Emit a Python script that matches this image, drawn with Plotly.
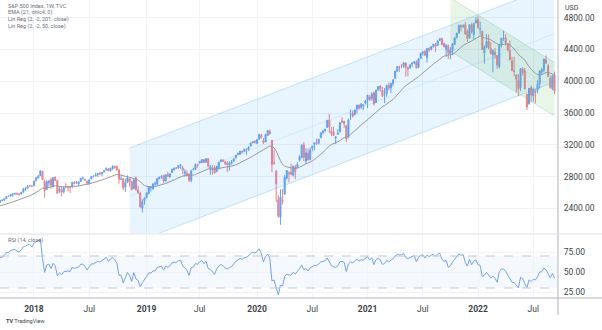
import numpy as np
import pandas as pd
import plotly.graph_objects as go

# Weekly S&P 500 bars (week starting Monday), first bar on this date
FIRST_WEEK = "2017-01-02"

opens_2017 = [2251, 2273, 2270, 2268, 2295, 2295, 2320, 2350, 2366, 2381,
              2372, 2379, 2330, 2363, 2357, 2332, 2375, 2389, 2394, 2393,
              2387, 2416, 2437, 2433, 2439, 2437, 2431, 2424, 2459, 2473,
              2475, 2475, 2444, 2428, 2442, 2474, 2473, 2501, 2503, 2521,
              2551, 2555, 2578, 2584, 2588, 2580, 2580, 2603, 2639, 2653,
              2685, 2682]
highs_2017 = [2282, 2279, 2276, 2300, 2299, 2319, 2352, 2368, 2401, 2383,
              2390, 2382, 2370, 2378, 2359, 2355, 2392, 2399, 2404, 2406,
              2418, 2440, 2446, 2450, 2454, 2454, 2439, 2463, 2477, 2484,
              2481, 2490, 2468, 2454, 2480, 2476, 2501, 2509, 2520, 2552,
              2557, 2576, 2582, 2590, 2597, 2590, 2605, 2657, 2665, 2695,
              2694, 2692]
lows_2017 = [2245, 2258, 2259, 2265, 2267, 2288, 2316, 2346, 2358, 2355,
             2360, 2335, 2322, 2346, 2322, 2324, 2370, 2377, 2387, 2353,
             2382, 2406, 2415, 2419, 2430, 2405, 2407, 2418, 2455, 2459,
             2465, 2437, 2421, 2417, 2428, 2447, 2470, 2488, 2493, 2520,
             2544, 2547, 2544, 2566, 2566, 2557, 2575, 2597, 2624, 2651,
             2673, 2673]
closes_2017 = [2277, 2275, 2271, 2295, 2297, 2316, 2351, 2367, 2383, 2372,
               2378, 2344, 2363, 2355, 2329, 2349, 2384, 2399, 2391, 2382,
               2416, 2439, 2432, 2433, 2438, 2423, 2425, 2459, 2472, 2472,
               2476, 2441, 2426, 2443, 2477, 2461, 2500, 2502, 2519, 2549,
               2553, 2575, 2581, 2588, 2582, 2579, 2602, 2642, 2652, 2675,
               2683, 2674]

opens_2018 = [2684, 2746, 2784, 2810, 2867, 2741, 2636, 2722, 2761, 2681,
              2790, 2750, 2619, 2633, 2611, 2671, 2675, 2670, 2675, 2722,
              2718, 2705, 2741, 2780, 2765, 2742, 2705, 2769, 2798, 2809,
              2821, 2840, 2835, 2857, 2884, 2896, 2871, 2896, 2926, 2926,
              2882, 2764, 2773, 2670, 2726, 2773, 2730, 2649, 2790, 2630,
              2590, 2401, 2498]
highs_2018 = [2745, 2787, 2810, 2873, 2870, 2763, 2755, 2754, 2789, 2787,
              2802, 2761, 2674, 2673, 2680, 2718, 2683, 2677, 2732, 2743,
              2742, 2736, 2779, 2801, 2774, 2746, 2760, 2802, 2816, 2848,
              2841, 2863, 2855, 2877, 2916, 2906, 2909, 2941, 2940, 2939,
              2894, 2817, 2779, 2773, 2816, 2776, 2747, 2760, 2800, 2685,
              2601, 2512, 2538]
lows_2018 = [2682, 2743, 2778, 2808, 2759, 2533, 2632, 2675, 2647, 2661,
             2741, 2586, 2594, 2553, 2586, 2660, 2612, 2594, 2655, 2701,
             2707, 2676, 2731, 2764, 2742, 2692, 2698, 2767, 2790, 2801,
             2795, 2825, 2802, 2848, 2874, 2864, 2864, 2886, 2902, 2875,
             2710, 2755, 2628, 2604, 2722, 2671, 2631, 2649, 2622, 2583,
             2409, 2346, 2443]
closes_2018 = [2743, 2786, 2810, 2873, 2762, 2620, 2732, 2747, 2691, 2786,
               2752, 2588, 2641, 2604, 2656, 2670, 2670, 2663, 2728, 2713,
               2721, 2735, 2779, 2780, 2755, 2718, 2760, 2801, 2802, 2819,
               2840, 2833, 2850, 2875, 2902, 2872, 2905, 2930, 2914, 2886,
               2767, 2768, 2659, 2723, 2781, 2736, 2633, 2760, 2633, 2600,
               2417, 2486, 2532]

opens_2019 = [2535, 2585, 2657, 2644, 2706, 2703, 2770, 2798, 2814, 2747,
              2823, 2796, 2849, 2888, 2908, 2908, 2940, 2909, 2841, 2841,
              2830, 2751, 2886, 2889, 2951, 2971, 2980, 3012, 2981, 3024,
              2898, 2907, 2911, 2866, 2910, 2988, 3001, 2983, 2967, 2944,
              2965, 2996, 3035, 3078, 3081, 3117, 3117, 3144, 3141, 3183,
              3223, 3240]
highs_2019 = [2597, 2675, 2672, 2716, 2738, 2776, 2795, 2814, 2816, 2831,
              2860, 2836, 2894, 2910, 2916, 2940, 2954, 2933, 2892, 2876,
              2840, 2885, 2910, 2964, 2959, 2996, 3014, 3017, 3028, 3029,
              2944, 2943, 2940, 2940, 2985, 3021, 3022, 3002, 2993, 2993,
              3008, 3027, 3067, 3097, 3120, 3127, 3154, 3150, 3183, 3226,
              3248, 3259]
lows_2019 = [2524, 2575, 2613, 2634, 2682, 2699, 2768, 2775, 2722, 2735,
             2800, 2785, 2848, 2874, 2896, 2898, 2900, 2826, 2801, 2805,
             2729, 2728, 2880, 2883, 2913, 2964, 2967, 2967, 2976, 2914,
             2822, 2825, 2834, 2856, 2892, 2980, 2985, 2946, 2855, 2874,
             2952, 2980, 3023, 3066, 3074, 3091, 3113, 3070, 3124, 3183,
             3223, 3212]
closes_2019 = [2596, 2671, 2665, 2707, 2708, 2776, 2793, 2804, 2743, 2822,
               2800, 2834, 2893, 2907, 2905, 2940, 2946, 2881, 2860, 2826,
               2752, 2873, 2887, 2950, 2942, 2990, 3014, 2977, 3026, 2932,
               2919, 2889, 2847, 2926, 2979, 3007, 2992, 2962, 2952, 2970,
               2986, 3023, 3067, 3093, 3120, 3110, 3141, 3146, 3169, 3221,
               3240, 3235]

opens_2020 = [3217, 3271, 3321, 3248, 3236, 3318, 3369, 3257, 2974, 2864,
              2508, 2290, 2498, 2579, 2782, 2846, 2854, 2815, 2915, 2913,
              3005, 3038, 3199, 2993, 3094, 3018, 3155, 3205, 3224, 3219,
              3289, 3356, 3380, 3419, 3508, 3369, 3363, 3285, 3334, 3367,
              3500, 3493, 3441, 3296, 3584, 3600, 3579, 3653, 3694, 3675,
              3694, 3723]
highs_2020 = [3268, 3330, 3337, 3285, 3338, 3385, 3393, 3260, 3137, 2883,
              2562, 2641, 2645, 2818, 2879, 2871, 2965, 2934, 2945, 2980,
              3068, 3211, 3233, 3155, 3155, 3165, 3185, 3233, 3280, 3272,
              3352, 3387, 3399, 3509, 3588, 3425, 3429, 3307, 3397, 3485,
              3550, 3502, 3443, 3529, 3645, 3629, 3645, 3700, 3712, 3726,
              3712, 3760]
lows_2020 = [3214, 3260, 3281, 3214, 3236, 3315, 3328, 2856, 2946, 2478,
             2280, 2192, 2447, 2569, 2761, 2728, 2816, 2798, 2766, 2913,
             2988, 3031, 2994, 2965, 3004, 3000, 3116, 3127, 3200, 3204,
             3284, 3330, 3357, 3417, 3350, 3310, 3313, 3209, 3324, 3354,
             3473, 3415, 3233, 3280, 3512, 3543, 3570, 3594, 3640, 3648,
             3636, 3707]
closes_2020 = [3265, 3330, 3295, 3226, 3328, 3380, 3338, 2954, 2972, 2711,
               2305, 2541, 2489, 2790, 2875, 2837, 2831, 2930, 2864, 2955,
               3044, 3194, 3041, 3098, 3009, 3130, 3185, 3225, 3216, 3271,
               3351, 3373, 3397, 3508, 3427, 3341, 3319, 3298, 3348, 3477,
               3484, 3465, 3270, 3510, 3585, 3558, 3638, 3699, 3663, 3709,
               3703, 3756]

opens_2021 = [3764, 3803, 3781, 3856, 3732, 3893, 3939, 3886, 3842, 3844,
              3949, 3916, 3969, 4034, 4125, 4183, 4185, 4191, 4228, 4169,
              4170, 4216, 4229, 4248, 4174, 4285, 4356, 4372, 4296, 4409,
              4406, 4438, 4461, 4450, 4514, 4536, 4474, 4402, 4442, 4349,
              4385, 4463, 4553, 4610, 4702, 4689, 4712, 4628, 4548, 4710,
              4587, 4733]
highs_2021 = [3827, 3824, 3860, 3870, 3894, 3938, 3950, 3929, 3914, 3960,
              3983, 3978, 4020, 4130, 4191, 4195, 4219, 4238, 4238, 4187,
              4219, 4235, 4249, 4262, 4287, 4356, 4372, 4393, 4415, 4429,
              4441, 4470, 4480, 4513, 4546, 4549, 4486, 4465, 4465, 4429,
              4475, 4560, 4608, 4718, 4714, 4718, 4744, 4653, 4713, 4732,
              4740, 4808]
lows_2021 = [3663, 3750, 3755, 3694, 3725, 3875, 3866, 3805, 3724, 3806,
             3886, 3853, 3936, 4034, 4119, 4119, 4164, 4167, 4057, 4062,
             4157, 4178, 4215, 4165, 4164, 4278, 4322, 4321, 4234, 4367,
             4387, 4424, 4368, 4450, 4513, 4458, 4428, 4306, 4279, 4278,
             4330, 4459, 4537, 4596, 4630, 4672, 4586, 4495, 4532, 4600,
             4531, 4733]
closes_2021 = [3825, 3768, 3841, 3714, 3887, 3934, 3907, 3811, 3842, 3943,
               3913, 3975, 4020, 4129, 4185, 4180, 4181, 4233, 4174, 4156,
               4204, 4230, 4247, 4166, 4281, 4352, 4370, 4327, 4412, 4395,
               4437, 4468, 4441, 4509, 4535, 4459, 4433, 4455, 4357, 4391,
               4471, 4545, 4605, 4698, 4683, 4698, 4595, 4538, 4712, 4620,
               4726, 4766]

opens_2022 = [4778, 4655, 4632, 4356, 4431, 4505, 4412, 4332, 4363, 4323,
              4188, 4462, 4541, 4547, 4474, 4385, 4256, 4131, 4081, 4013,
              3919, 4151, 4134, 3838, 3716, 3920, 3815, 3880, 3883, 3966,
              4113, 4142, 4270, 4195, 4034, 3910, 4083]
highs_2022 = [4819, 4749, 4632, 4453, 4595, 4590, 4490, 4401, 4416, 4329,
              4466, 4546, 4637, 4593, 4474, 4513, 4308, 4308, 4082, 4091,
              4158, 4178, 4168, 3838, 3913, 3945, 3919, 3907, 4013, 4140,
              4168, 4280, 4325, 4218, 4062, 4076, 4120]
lows_2022 = [4662, 4582, 4395, 4222, 4414, 4401, 4335, 4114, 4281, 4157,
             4161, 4424, 4507, 4451, 4381, 4262, 4129, 4062, 3859, 3811,
             3875, 4074, 3900, 3637, 3705, 3739, 3742, 3722, 3846, 3906,
             4080, 4112, 4218, 4058, 3907, 3886, 3838]
closes_2022 = [4677, 4663, 4398, 4432, 4501, 4419, 4349, 4385, 4329, 4204,
               4463, 4543, 4546, 4488, 4393, 4272, 4132, 4123, 4024, 3901,
               4158, 4109, 3901, 3675, 3912, 3825, 3899, 3863, 3962, 4130,
               4145, 4280, 4228, 4058, 3924, 4067, 3873]

# Axis labels
price_ticks = [2400, 2800, 3200, 3600, 4000, 4400, 4800]
rsi_ticks = [25, 50, 75]
time_ticks = ["2018-01-01", "2018-07-02", "2019-01-07", "2019-07-01",
              "2020-01-06", "2020-07-06", "2021-01-04", "2021-07-05",
              "2022-01-03", "2022-07-04"]
time_labels = ["<b>2018</b>", "Jul", "<b>2019</b>", "Jul", "<b>2020</b>", "Jul",
               "<b>2021</b>", "Jul", "<b>2022</b>", "Jul"]

# ---------------------------------------------------------------------------
opens = np.array(opens_2017 + opens_2018 + opens_2019 + opens_2020 + opens_2021 + opens_2022, float)
highs = np.array(highs_2017 + highs_2018 + highs_2019 + highs_2020 + highs_2021 + highs_2022, float)
lows = np.array(lows_2017 + lows_2018 + lows_2019 + lows_2020 + lows_2021 + lows_2022, float)
closes = np.array(closes_2017 + closes_2018 + closes_2019 + closes_2020 + closes_2021 + closes_2022, float)
assert len(opens) == len(highs) == len(lows) == len(closes)
weeks = pd.date_range(FIRST_WEEK, periods=len(closes), freq="W-MON")


def ema(src, n):
    a = 2.0 / (n + 1)
    out = np.empty_like(src)
    out[0] = src[0]
    for i in range(1, len(src)):
        out[i] = a * src[i] + (1 - a) * out[i - 1]
    return out


def rma(src, n):
    out = np.full(len(src), np.nan)
    out[n - 1] = src[:n].mean()
    for i in range(n, len(src)):
        out[i] = (out[i - 1] * (n - 1) + src[i]) / n
    return out


def rsi(src, n=14):
    ch = np.diff(src)
    up = rma(np.maximum(ch, 0), n)
    dn = rma(np.maximum(-ch, 0), n)
    val = 100 - 100 / (1 + up / dn)
    return np.concatenate([[np.nan], val])


def linreg_channel(src, n, dev=2.0):
    y = src[-n:]
    x = np.arange(n)
    slope, intercept = np.polyfit(x, y, 1)
    base = intercept + slope * x
    sd = np.sqrt(((y - base) ** 2).sum() / (n - 1))
    return base, base + dev * sd, base - dev * sd


ema21 = ema((opens + highs + lows + closes) / 4, 21)
rsi14 = rsi(closes, 14)

UP = "#64a2f2"
DOWN = "#f07f88"
FONT = "Roboto"

fig = go.Figure()

channels = [(201, "66,165,245", 0.12), (50, "102,187,106", 0.15)]
for n, rgb, alpha in channels:
    base, upper, lower = linreg_channel(closes, n)
    xs = weeks[-n:]
    fig.add_trace(go.Scatter(x=xs, y=lower, mode="lines",
                             line=dict(color=f"rgba({rgb},0.28)", width=1),
                             hoverinfo="skip", showlegend=False))
    fig.add_trace(go.Scatter(x=xs, y=upper, mode="lines", fill="tonexty",
                             fillcolor=f"rgba({rgb},{alpha})",
                             line=dict(color=f"rgba({rgb},0.28)", width=1),
                             hoverinfo="skip", showlegend=False))
    fig.add_trace(go.Scatter(x=xs, y=base, mode="lines",
                             line=dict(color=f"rgba({rgb},0.12)", width=1),
                             hoverinfo="skip", showlegend=False))

fig.add_trace(go.Candlestick(
    x=weeks, open=opens, high=highs, low=lows, close=closes,
    increasing=dict(line=dict(color=UP, width=1), fillcolor=UP),
    decreasing=dict(line=dict(color=DOWN, width=1), fillcolor=DOWN),
    whiskerwidth=0, showlegend=False, hoverinfo="skip"))

fig.add_trace(go.Scatter(x=weeks, y=ema21, mode="lines",
                         line=dict(color="#9a9a9a", width=1),
                         hoverinfo="skip", showlegend=False))

fig.add_trace(go.Scatter(x=weeks, y=rsi14, mode="lines",
                         line=dict(color="#74a1e6", width=1),
                         xaxis="x2", yaxis="y2",
                         hoverinfo="skip", showlegend=False))

PLOT_H = 298
main_bottom = (PLOT_H - 233) / PLOT_H
rsi_top = (PLOT_H - 235) / PLOT_H
x_range = ["2017-09-11", "2022-09-23 12:00"]
grid = "#f1f3f8"
tick_font = dict(family=FONT, size=8.5, color="#3b3f48")

fig.update_layout(
    width=602, height=330,
    margin=dict(l=0, r=44, t=0, b=32),
    paper_bgcolor="white", plot_bgcolor="white",
    font=dict(family=FONT),
    hovermode=False,
    xaxis=dict(domain=[0, 1], anchor="y", range=x_range, type="date",
               rangeslider=dict(visible=False), tickvals=time_ticks,
               showticklabels=False, showgrid=True, gridcolor=grid,
               zeroline=False, showline=False, matches="x2"),
    yaxis=dict(domain=[main_bottom, 1], anchor="x", side="right",
               range=[2089, 5023], tickvals=price_ticks,
               ticktext=[f"{v:.2f}" for v in price_ticks],
               tickfont=tick_font, ticks="outside", ticklen=3, tickcolor="white",
               showgrid=True, gridcolor=grid, zeroline=False, showline=False),
    xaxis2=dict(domain=[0, 1], anchor="y2", range=x_range, type="date",
                tickvals=time_ticks, ticktext=time_labels, tickfont=tick_font,
                ticks="outside", ticklen=3, tickcolor="white",
                showgrid=True, gridcolor=grid, zeroline=False, showline=False),
    yaxis2=dict(domain=[0, rsi_top], anchor="x2", side="right",
                range=[17.5, 96.25], tickvals=rsi_ticks,
                ticktext=[f"{v:.2f}" for v in rsi_ticks],
                tickfont=tick_font, ticks="outside", ticklen=3, tickcolor="white",
                showgrid=True, gridcolor=grid, zeroline=False, showline=False),
)

# RSI band and its 70 / 30 guides
fig.add_shape(type="rect", xref="x2 domain", yref="y2", x0=0, x1=1, y0=30, y1=70,
              fillcolor="rgba(66,133,244,0.05)", line=dict(width=0), layer="below")
for lvl in (30, 70):
    fig.add_shape(type="line", xref="x2 domain", yref="y2", x0=0, x1=1, y0=lvl, y1=lvl,
                  line=dict(color="#c3c7cf", width=1, dash="dash"))

# pane borders
right_edge = 602 / 558
fig.add_shape(type="line", xref="paper", yref="paper", x0=1, x1=1, y0=1, y1=-17 / PLOT_H,
              line=dict(color="#b2b5be", width=1))
fig.add_shape(type="line", xref="paper", yref="paper", x0=0, x1=right_edge, y0=0, y1=0,
              line=dict(color="#b2b5be", width=1))
fig.add_shape(type="line", xref="paper", yref="paper", x0=0, x1=right_edge,
              y0=(PLOT_H - 234) / PLOT_H, y1=(PLOT_H - 234) / PLOT_H,
              line=dict(color="#dcdfe6", width=1))


def py(pix):
    return 1 - pix / PLOT_H


legend_lines = ["S&P 500 Index, 1W, TVC", "EMA (21, ohlc4, 0)",
                "Lin Reg (2, -2, 201, close)", "Lin Reg (2, -2, 50, close)"]
for i, txt in enumerate(legend_lines):
    fig.add_annotation(text=txt, xref="paper", yref="paper", x=6 / 558, y=py(6 + 6.8 * i),
                       xanchor="left", yanchor="middle", showarrow=False,
                       font=dict(family=FONT, size=5.5, color="#6b6f7a"))
fig.add_annotation(text="RSI (14, close)", xref="paper", yref="paper", x=6 / 558, y=py(240.5),
                   xanchor="left", yanchor="middle", showarrow=False,
                   font=dict(family=FONT, size=5.5, color="#6b6f7a"))
fig.add_annotation(text="USD", xref="paper", yref="paper", x=563 / 558, y=py(7.5),
                   xanchor="left", yanchor="middle", showarrow=False,
                   font=dict(family=FONT, size=7, color="#3b3f48"))
fig.add_annotation(text="<b>TV</b> TradingView", xref="paper", yref="paper", x=4 / 558, y=py(321),
                   xanchor="left", yanchor="middle", showarrow=False,
                   font=dict(family=FONT, size=5.5, color="#3b3f48"))

fig.write_html("out.html")
